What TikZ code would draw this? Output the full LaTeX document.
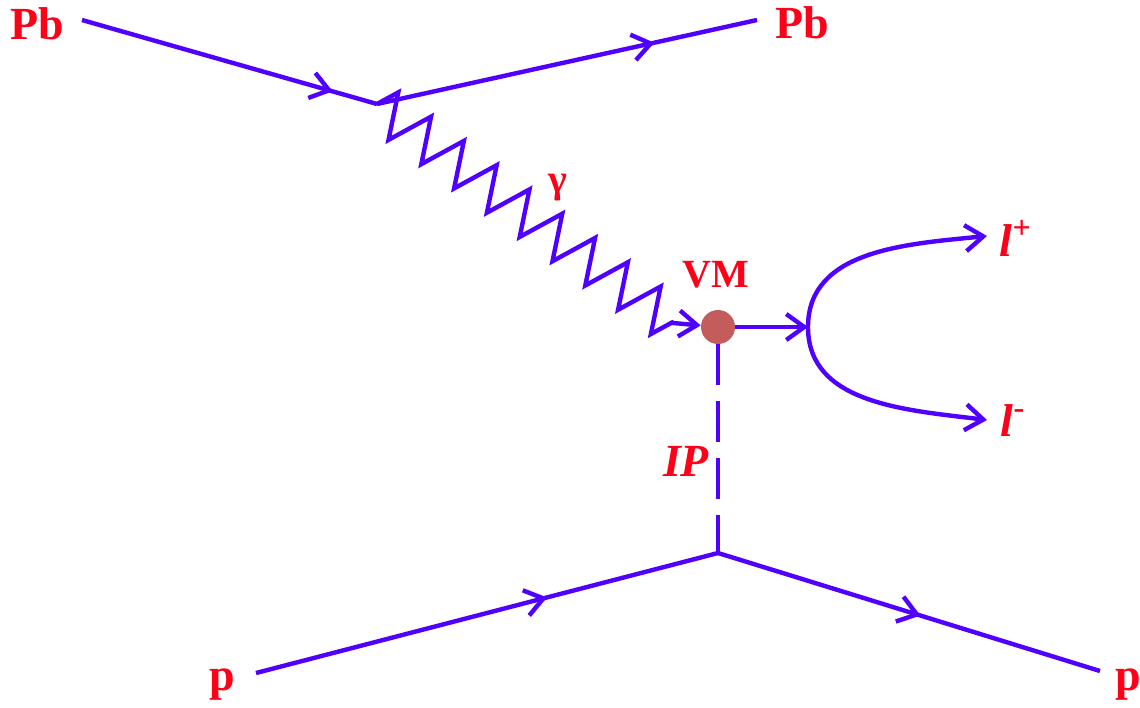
\documentclass[tikz,border=0pt]{standalone}
\usepackage{fontspec}
\setmainfont{Liberation Serif}
\usetikzlibrary{arrows.meta, decorations.pathmorphing, decorations.markings}
\definecolor{lineblue}{HTML}{4F00FF}
\definecolor{lblred}{HTML}{FF0018}
\definecolor{vmfill}{HTML}{C45C5C}
\tikzset{
  lbl/.style     = {text=lblred, font=\fontsize{23}{25}\selectfont\bfseries, inner sep=0pt},
  smlbl/.style   = {lbl, font=\fontsize{20}{22}\selectfont\bfseries},
  prt/.style     = {line width=2.2pt, draw=lineblue},
  endarrow/.style= {-{Straight Barb[length=9pt, width=13pt]}},
  fermion/.style = {prt, postaction={decorate}, decoration={markings,
                    mark=at position #1 with {\arrow{Straight Barb[length=9pt, width=13pt]}}}},
  photon/.style  = {decoration={zigzag, segment length=20.4pt, amplitude=11pt}},
  pomeron/.style = {prt, dash pattern=on 20.5pt off 8pt},
  vmdot/.style   = {circle, fill=vmfill, minimum size=17pt, inner sep=0pt},
}

\begin{document}
\begin{tikzpicture}[x=0.5pt, y=-0.5pt]
        \useasboundingbox (0,0) rectangle (1140,707);
        % lead ions on top
        \coordinate (pbin)  at (82,20);
        \coordinate (topv)  at (377,104);
        \coordinate (pbout) at (757,20);
        \node[lbl] (pbl) at (37,24)  {Pb};
        \node[lbl] (pbr) at (802,23) {Pb};
        \draw[fermion=0.85] (pbin) -- (topv);
        \draw[fermion=0.73] (topv) -- (pbout);
        % photon into the vector meson
        \node[vmdot] (vm) at (718,327) {};
        \node[smlbl] (vml) at (716,275) {VM};
        \coordinate (kink) at (673,323);
        \draw[prt, endarrow] (topv) decorate[photon] {-- (kink)} -- (vm);
        \node[lbl, font=\fontsize{20}{22}\selectfont\bfseries] (gam) at (558,188) {γ};
        % decay to leptons
        \coordinate (split) at (808,327);
        \coordinate (lpend) at (987,236);
        \coordinate (lmend) at (987,420);
        \node[lbl] (lpl) at (1016,238) {\itshape l\textsuperscript{\upshape +}};
        \node[lbl] (lml) at (1013,421) {\itshape l\textsuperscript{\upshape -}};
        \draw[prt, endarrow] (vm) -- (split);
        \draw[prt, endarrow] (split) .. controls (808,250) and (906,244) .. (lpend);
        \draw[prt, endarrow] (split) .. controls (808,404) and (906,410) .. (lmend);
        % pomeron and proton
        \coordinate (botv) at (718,553);
        \coordinate (pin)  at (256,673);
        \coordinate (pout) at (1100,671);
        \node[lbl] (ipl) at (686,461) {\itshape IP};
        \node[lbl] (pl) at (222,685)  {p};
        \node[lbl] (pr) at (1128,685) {p};
        \draw[pomeron] (vm) -- (botv);
        \draw[fermion=0.63] (pin) -- (botv);
        \draw[fermion=0.53] (botv) -- (pout);
    \end{tikzpicture}
\end{document}
